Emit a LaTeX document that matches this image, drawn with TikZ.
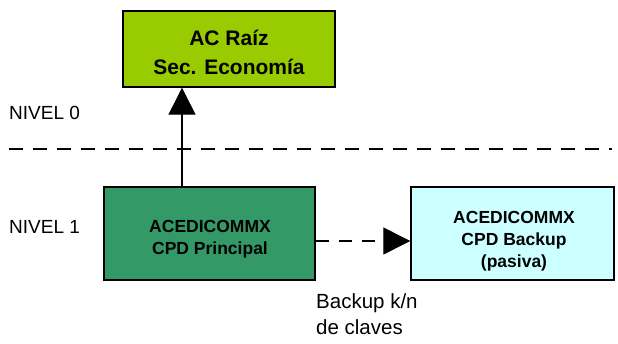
\documentclass[tikz,border=0pt]{standalone}
\usepackage{fontspec}
\setmainfont{Liberation Sans}
\usetikzlibrary{arrows.meta}

\definecolor{raizgreen}{HTML}{99CC00}
\definecolor{cpdgreen}{HTML}{339966}
\definecolor{cpdcyan}{HTML}{CCFFFF}

\tikzset{
  acbox/.style={draw=black, line width=1.4pt, inner sep=0pt},
  actext/.style={inner sep=0pt, align=center, font=\bfseries\fontsize{17.5}{22}\selectfont},
  conn/.style={line width=1.3pt, -{Triangle[length=27pt,width=27pt]}},
  lbl/.style={inner sep=0pt, align=left, font=\fontsize{19}{26}\selectfont}
}

\begin{document}
\begin{tikzpicture}[x=1pt,y=-1pt]
            \useasboundingbox (0,0) rectangle (618,343);

            % boxes
            \node[acbox, fill=raizgreen, minimum width=212pt, minimum height=76pt] (raiz) at (229,49) {};
            \node[actext, font=\bfseries\fontsize{21}{29}\selectfont] (raiztxt) at (229,52) {AC Raíz\\Sec. Economía};
            \node[acbox, fill=cpdgreen, minimum width=211pt, minimum height=93pt] (principal) at (209.5,233.5) {};
            \node[actext] (principaltxt) at (210,239) {ACEDICOMMX\\CPD Principal};
            \node[acbox, fill=cpdcyan, minimum width=203pt, minimum height=93pt] (backup) at (512.5,233.5) {};
            \node[actext] (backuptxt) at (514,241) {ACEDICOMMX\\CPD Backup\\(pasiva)};

            % levels
            \node[lbl, anchor=west] (nivel0) at (9,113) {NIVEL 0};
            \node[lbl, anchor=west] (nivel1) at (9,227) {NIVEL 1};
            \coordinate (sepl) at (9,149);
            \coordinate (sepr) at (612,149);
            \draw[line width=2pt, dash pattern=on 14pt off 10pt] (sepl) -- (sepr);

            % connectors
            \coordinate (upx) at (182,0);
            \coordinate (bky) at (0,241);
            \draw[conn] (principal.north -| upx) -- (raiz.south -| upx); % principal-raiz
            \draw[conn, dash pattern=on 13pt off 10pt] (principal.east |- bky) -- (backup.west |- bky); % principal-backup

            \node[lbl, anchor=north west, font=\fontsize{20.5}{26}\selectfont] (claves) at (316,293) {Backup k/n\\de claves};
        \end{tikzpicture}
\end{document}
